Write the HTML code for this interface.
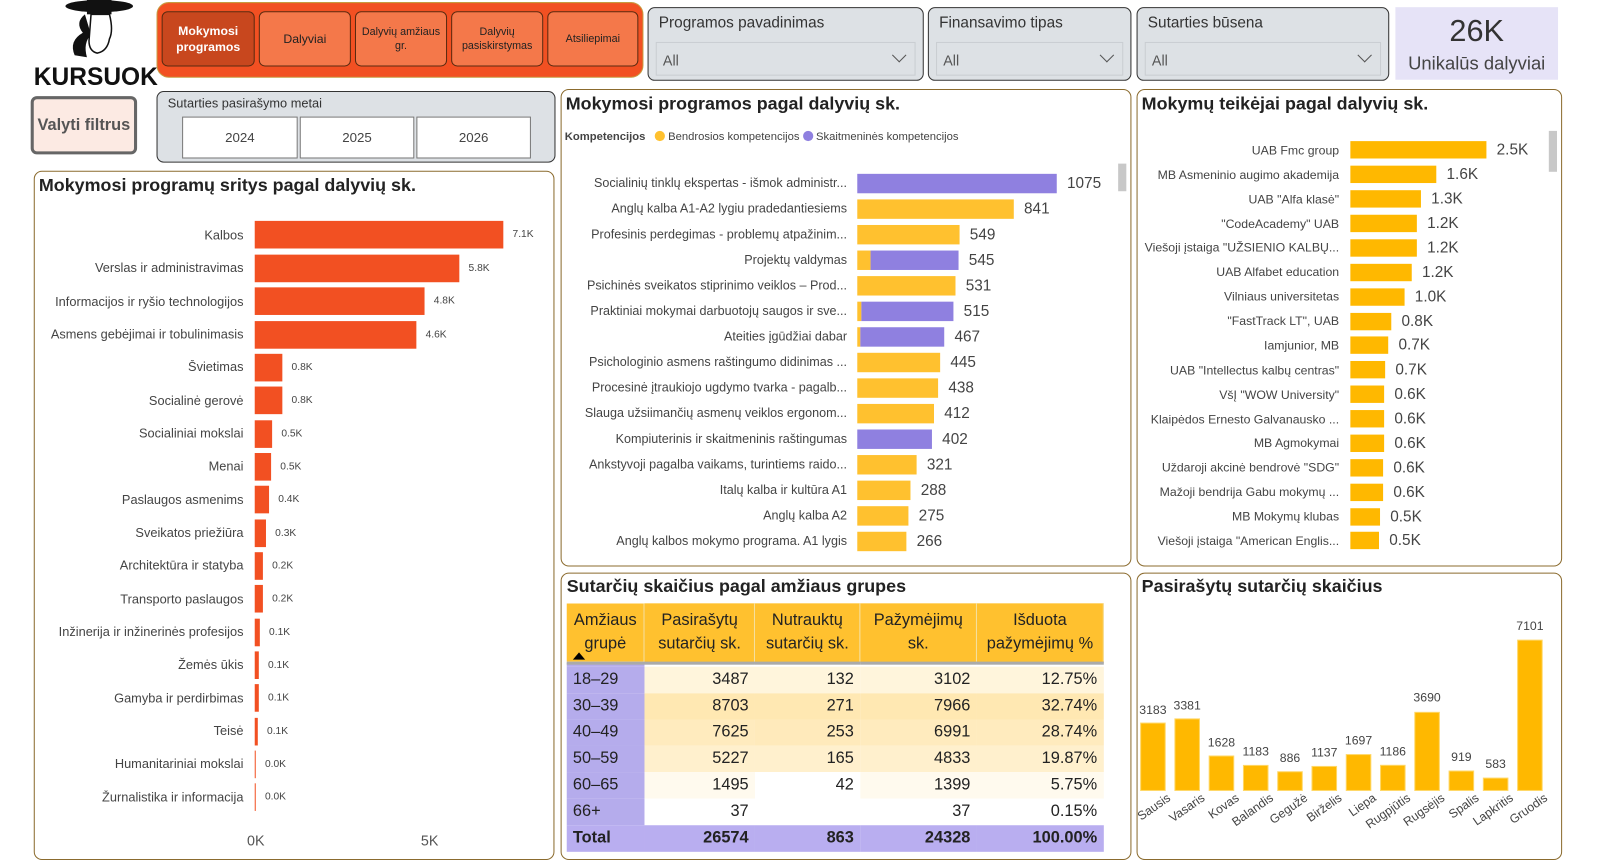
<!DOCTYPE html>
<html><head><meta charset="utf-8">
<style>
*{box-sizing:border-box;margin:0;padding:0}
html,body{width:1603px;height:860px;overflow:hidden;background:#fff;font-family:"Liberation Sans","DejaVu Sans",sans-serif;color:#333}
#w{position:absolute;left:0;top:0;width:1567px;height:841px;transform:scale(1.023,1.0226);transform-origin:0 0}
.a{position:absolute}
.panel{position:absolute;border:1.5px solid #8B6B2E;border-radius:8px;background:#fff}
.title{position:absolute;font-size:17.5px;font-weight:bold;color:#222;white-space:nowrap}
.nav{position:absolute;top:11px;height:54px;border:1px solid #5a2a10;border-radius:6px;background:#F4784A;color:#222;font-size:10.5px;text-align:center;display:flex;align-items:center;justify-content:center;line-height:14px}
.dd{position:absolute;top:7px;height:72px;background:#DDE1E5;border:1.5px solid #333;border-radius:7px}
.dd .l{position:absolute;left:10px;top:6px;font-size:15px;color:#333}
.dd .b{position:absolute;left:7px;right:7px;top:33px;height:33px;border:1px solid #c9cdd2;font-size:14px;color:#555;padding:9px 0 0 6px}
.dd .b:after{content:"";position:absolute;right:10px;top:7px;width:9px;height:9px;border-right:1.3px solid #555;border-bottom:1.3px solid #555;transform:rotate(45deg)}
.rows{position:absolute}
.row{display:flex;align-items:center}
.lab{text-align:right;white-space:nowrap;overflow:hidden;color:#444;flex:none}
.bar{flex:none}
.val{flex:none;white-space:nowrap;color:#444}
.L .row{height:32.35px}.L .lab{width:216px;padding-right:11px;font-size:12.5px}.L .bar{height:27px;background:#F25022}.L .val{margin-left:9px;font-size:10px}
.M .row{height:25px}.M .lab{width:283px;padding-right:10px;font-size:12.3px}.M .bar{height:19px;display:flex}.M .val{margin-left:10px;font-size:15px}
.y{background:#FFC12F;height:100%}.p{background:#8F80E0;height:100%}
.R .row{height:23.875px}.R .lab{width:216px;padding-right:11px;font-size:12px}.R .bar{height:17px;background:#FFB800}.R .val{margin-left:10px;font-size:15px}
table{border-collapse:collapse;font-size:16px;color:#222}
td{padding:0 6px;height:25.8px;text-align:right}
td:first-child{text-align:left;background:#B5ACEC}
th{font-weight:normal;background:#FFC12F;font-size:16px;height:58px;line-height:23px;border-right:1px solid #f5e0a0;border-bottom:3px solid #aaa}
tr.t td{background:#B9AEF0;font-weight:bold}
</style></head><body><div id="w">

<svg class="a" style="left:55px;top:0" width="80" height="58" viewBox="0 0 80 58">
<ellipse cx="42" cy="6" rx="33" ry="6" fill="#111"/>
<rect x="30" y="0" width="24" height="14" fill="#111"/>
<path d="M28 14 Q18 22 26 32 Q12 40 18 54 L30 56 Q26 42 34 34 Z" fill="#111"/>
<path d="M34 14 L52 14 Q56 30 52 38 Q50 50 40 52 Q32 50 32 40 Z" fill="#fff" stroke="#111" stroke-width="1.5"/>
</svg>
<div class="a" style="left:33px;top:62px;font-size:24px;font-weight:bold;color:#111">KURSUOK</div>

<div class="a" style="left:153px;top:2px;width:476px;height:74px;background:#F25022;border:1.5px solid #c89a40;border-radius:12px"></div>
<div class="nav" style="left:158px;width:91px;background:#C8471E;color:#fff;font-weight:bold;font-size:12px;line-height:16px">Mokymosi<br>programos</div>
<div class="nav" style="left:253px;width:90px;font-size:12px">Dalyviai</div>
<div class="nav" style="left:347px;width:90px">Dalyvių amžiaus<br>gr.</div>
<div class="nav" style="left:441px;width:90px">Dalyvių<br>pasiskirstymas</div>
<div class="nav" style="left:535px;width:89px">Atsiliepimai</div>

<div class="a" style="left:30px;top:94px;width:104px;height:57px;background:#FCEAE3;border:3px solid #666;border-radius:6px;font-size:16px;font-weight:bold;color:#555;display:flex;align-items:center;justify-content:center">Valyti filtrus</div>

<div class="a" style="left:153px;top:89px;width:390px;height:70px;background:#DDE1E5;border:1.5px solid #333;border-radius:7px">
<div class="a" style="left:10px;top:4px;font-size:12.5px;color:#333">Sutarties pasirašymo metai</div>
<div class="a" style="left:24px;top:24px;width:113px;height:41px;background:#fff;border:1px solid #777;font-size:13px;text-align:center;line-height:39px;color:#444">2024</div>
<div class="a" style="left:139px;top:24px;width:112px;height:41px;background:#fff;border:1px solid #777;font-size:13px;text-align:center;line-height:39px;color:#444">2025</div>
<div class="a" style="left:253px;top:24px;width:112px;height:41px;background:#fff;border:1px solid #777;font-size:13px;text-align:center;line-height:39px;color:#444">2026</div>
</div>

<div class="dd" style="left:633px;width:270px"><div class="l">Programos pavadinimas</div><div class="b">All</div></div>
<div class="dd" style="left:907px;width:199px"><div class="l">Finansavimo tipas</div><div class="b">All</div></div>
<div class="dd" style="left:1111px;width:247px"><div class="l">Sutarties būsena</div><div class="b">All</div></div>

<div class="a" style="left:1364px;top:7px;width:159px;height:71px;background:#E6E3F7;text-align:center">
<div style="font-size:30px;color:#333;margin-top:7px;line-height:34px">26K</div>
<div style="font-size:18px;color:#444;margin-top:4px">Unikalūs dalyviai</div>
</div>

<div class="panel" style="left:33px;top:167px;width:509px;height:674px"></div>
<div class="title" style="left:38px;top:171px">Mokymosi programų sritys pagal dalyvių sk.</div>
<div class="rows L" style="left:33px;top:213.8px">
<div class="row"><div class="lab">Kalbos</div><div class="bar" style="width:243px"></div><div class="val">7.1K</div></div>
<div class="row"><div class="lab">Verslas ir administravimas</div><div class="bar" style="width:200px"></div><div class="val">5.8K</div></div>
<div class="row"><div class="lab">Informacijos ir ryšio technologijos</div><div class="bar" style="width:166px"></div><div class="val">4.8K</div></div>
<div class="row"><div class="lab">Asmens gebėjimai ir tobulinimasis</div><div class="bar" style="width:158px"></div><div class="val">4.6K</div></div>
<div class="row"><div class="lab">Švietimas</div><div class="bar" style="width:27px"></div><div class="val">0.8K</div></div>
<div class="row"><div class="lab">Socialinė gerovė</div><div class="bar" style="width:27px"></div><div class="val">0.8K</div></div>
<div class="row"><div class="lab">Socialiniai mokslai</div><div class="bar" style="width:17px"></div><div class="val">0.5K</div></div>
<div class="row"><div class="lab">Menai</div><div class="bar" style="width:16px"></div><div class="val">0.5K</div></div>
<div class="row"><div class="lab">Paslaugos asmenims</div><div class="bar" style="width:14px"></div><div class="val">0.4K</div></div>
<div class="row"><div class="lab">Sveikatos priežiūra</div><div class="bar" style="width:11px"></div><div class="val">0.3K</div></div>
<div class="row"><div class="lab">Architektūra ir statyba</div><div class="bar" style="width:8px"></div><div class="val">0.2K</div></div>
<div class="row"><div class="lab">Transporto paslaugos</div><div class="bar" style="width:8px"></div><div class="val">0.2K</div></div>
<div class="row"><div class="lab">Inžinerija ir inžinerinės profesijos</div><div class="bar" style="width:5px"></div><div class="val">0.1K</div></div>
<div class="row"><div class="lab">Žemės ūkis</div><div class="bar" style="width:4px"></div><div class="val">0.1K</div></div>
<div class="row"><div class="lab">Gamyba ir perdirbimas</div><div class="bar" style="width:4px"></div><div class="val">0.1K</div></div>
<div class="row"><div class="lab">Teisė</div><div class="bar" style="width:3px"></div><div class="val">0.1K</div></div>
<div class="row"><div class="lab">Humanitariniai mokslai</div><div class="bar" style="width:1px"></div><div class="val">0.0K</div></div>
<div class="row"><div class="lab">Žurnalistika ir informacija</div><div class="bar" style="width:1px"></div><div class="val">0.0K</div></div>
</div>
<div class="a" style="left:238px;top:814px;width:24px;text-align:center;font-size:14px;color:#555">0K</div>
<div class="a" style="left:408px;top:814px;width:24px;text-align:center;font-size:14px;color:#555">5K</div>

<div class="panel" style="left:548px;top:87px;width:558px;height:467px"></div>
<div class="title" style="left:553px;top:91px">Mokymosi programos pagal dalyvių sk.</div>
<div class="a" style="left:552px;top:128px;font-size:11px;color:#444;white-space:nowrap"><b>Kompetencijos</b>&nbsp;&nbsp;&nbsp;<span style="display:inline-block;width:10px;height:10px;border-radius:50%;background:#FFC12F;vertical-align:-1px"></span> Bendrosios kompetencijos <span style="display:inline-block;width:10px;height:10px;border-radius:50%;background:#8F80E0;vertical-align:-1px"></span> Skaitmeninės kompetencijos</div>
<div class="a" style="left:1093px;top:160px;width:8px;height:27px;background:#c8c8c8"></div>
<div class="rows M" style="left:555px;top:166.5px">
<div class="row"><div class="lab">Socialinių tinklų ekspertas - išmok administr...</div><div class="bar" style="width:195px"><div class="p" style="width:195px"></div></div><div class="val">1075</div></div>
<div class="row"><div class="lab">Anglų kalba A1-A2 lygiu pradedantiesiems</div><div class="bar" style="width:153px"><div class="y" style="width:153px"></div></div><div class="val">841</div></div>
<div class="row"><div class="lab">Profesinis perdegimas - problemų atpažinim...</div><div class="bar" style="width:100px"><div class="y" style="width:100px"></div></div><div class="val">549</div></div>
<div class="row"><div class="lab">Projektų valdymas</div><div class="bar" style="width:99px"><div class="y" style="width:13px"></div><div class="p" style="width:86px"></div></div><div class="val">545</div></div>
<div class="row"><div class="lab">Psichinės sveikatos stiprinimo veiklos – Prod...</div><div class="bar" style="width:96px"><div class="y" style="width:96px"></div></div><div class="val">531</div></div>
<div class="row"><div class="lab">Praktiniai mokymai darbuotojų saugos ir sve...</div><div class="bar" style="width:94px"><div class="y" style="width:4px"></div><div class="p" style="width:90px"></div></div><div class="val">515</div></div>
<div class="row"><div class="lab">Ateities įgūdžiai dabar</div><div class="bar" style="width:85px"><div class="y" style="width:3px"></div><div class="p" style="width:82px"></div></div><div class="val">467</div></div>
<div class="row"><div class="lab">Psichologinio asmens raštingumo didinimas ...</div><div class="bar" style="width:81px"><div class="y" style="width:81px"></div></div><div class="val">445</div></div>
<div class="row"><div class="lab">Procesinė įtraukiojo ugdymo tvarka - pagalb...</div><div class="bar" style="width:79px"><div class="y" style="width:79px"></div></div><div class="val">438</div></div>
<div class="row"><div class="lab">Slauga užsiimančių asmenų veiklos ergonom...</div><div class="bar" style="width:75px"><div class="y" style="width:75px"></div></div><div class="val">412</div></div>
<div class="row"><div class="lab">Kompiuterinis ir skaitmeninis raštingumas</div><div class="bar" style="width:73px"><div class="p" style="width:73px"></div></div><div class="val">402</div></div>
<div class="row"><div class="lab">Ankstyvoji pagalba vaikams, turintiems raido...</div><div class="bar" style="width:58px"><div class="y" style="width:58px"></div></div><div class="val">321</div></div>
<div class="row"><div class="lab">Italų kalba ir kultūra A1</div><div class="bar" style="width:52px"><div class="y" style="width:52px"></div></div><div class="val">288</div></div>
<div class="row"><div class="lab">Anglų kalba A2</div><div class="bar" style="width:50px"><div class="y" style="width:50px"></div></div><div class="val">275</div></div>
<div class="row"><div class="lab">Anglų kalbos mokymo programa. A1 lygis</div><div class="bar" style="width:48px"><div class="y" style="width:48px"></div></div><div class="val">266</div></div>
</div>

<div class="panel" style="left:1111px;top:87px;width:416px;height:467px"></div>
<div class="title" style="left:1116px;top:91px">Mokymų teikėjai pagal dalyvių sk.</div>
<div class="a" style="left:1514px;top:128px;width:8px;height:40px;background:#c8c8c8"></div>
<div class="rows R" style="left:1104px;top:135px">
<div class="row"><div class="lab">UAB Fmc group</div><div class="bar" style="width:133px"></div><div class="val">2.5K</div></div>
<div class="row"><div class="lab">MB Asmeninio augimo akademija</div><div class="bar" style="width:84px"></div><div class="val">1.6K</div></div>
<div class="row"><div class="lab">UAB "Alfa klasė"</div><div class="bar" style="width:69px"></div><div class="val">1.3K</div></div>
<div class="row"><div class="lab">"CodeAcademy" UAB</div><div class="bar" style="width:65px"></div><div class="val">1.2K</div></div>
<div class="row"><div class="lab">Viešoji įstaiga "UŽSIENIO KALBŲ...</div><div class="bar" style="width:65px"></div><div class="val">1.2K</div></div>
<div class="row"><div class="lab">UAB Alfabet education</div><div class="bar" style="width:60px"></div><div class="val">1.2K</div></div>
<div class="row"><div class="lab">Vilniaus universitetas</div><div class="bar" style="width:53px"></div><div class="val">1.0K</div></div>
<div class="row"><div class="lab">"FastTrack LT", UAB</div><div class="bar" style="width:40px"></div><div class="val">0.8K</div></div>
<div class="row"><div class="lab">Iamjunior, MB</div><div class="bar" style="width:37px"></div><div class="val">0.7K</div></div>
<div class="row"><div class="lab">UAB "Intellectus kalbų centras"</div><div class="bar" style="width:34px"></div><div class="val">0.7K</div></div>
<div class="row"><div class="lab">VšĮ "WOW University"</div><div class="bar" style="width:33px"></div><div class="val">0.6K</div></div>
<div class="row"><div class="lab">Klaipėdos Ernesto Galvanausko ...</div><div class="bar" style="width:33px"></div><div class="val">0.6K</div></div>
<div class="row"><div class="lab">MB Agmokymai</div><div class="bar" style="width:33px"></div><div class="val">0.6K</div></div>
<div class="row"><div class="lab">Uždaroji akcinė bendrovė "SDG"</div><div class="bar" style="width:32px"></div><div class="val">0.6K</div></div>
<div class="row"><div class="lab">Mažoji bendrija Gabu mokymų ...</div><div class="bar" style="width:32px"></div><div class="val">0.6K</div></div>
<div class="row"><div class="lab">MB Mokymų klubas</div><div class="bar" style="width:29px"></div><div class="val">0.5K</div></div>
<div class="row"><div class="lab">Viešoji įstaiga "American Englis...</div><div class="bar" style="width:28px"></div><div class="val">0.5K</div></div>
</div>

<div class="panel" style="left:548px;top:560px;width:558px;height:281px"></div>
<div class="title" style="left:554px;top:563px">Sutarčių skaičius pagal amžiaus grupes</div>
<table class="a" style="left:554px;top:590px;width:525px">
<colgroup><col style="width:76px"><col style="width:108px"><col style="width:103px"><col style="width:114px"><col style="width:124px"></colgroup>
<tr><th style="position:relative">Amžiaus<br>grupė<span style="position:absolute;left:6px;bottom:2px;width:0;height:0;border-left:6px solid transparent;border-right:6px solid transparent;border-bottom:7px solid #000"></span></th><th>Pasirašytų<br>sutarčių sk.</th><th>Nutrauktų<br>sutarčių sk.</th><th>Pažymėjimų<br>sk.</th><th>Išduota<br>pažymėjimų %</th></tr>
<tr><td style="height:4px;padding:0"></td><td colspan="4" style="height:4px;padding:0;background:#fff"></td></tr>
<tr><td>18–29</td><td style="background:#FFF5DC">3487</td><td style="background:#FFF5DC">132</td><td style="background:#FFF5DC">3102</td><td style="background:#FFF5DC">12.75%</td></tr>
<tr><td>30–39</td><td style="background:#FFE8B2">8703</td><td style="background:#FFE8B2">271</td><td style="background:#FFE8B2">7966</td><td style="background:#FFE8B2">32.74%</td></tr>
<tr><td>40–49</td><td style="background:#FFEBBE">7625</td><td style="background:#FFEABB">253</td><td style="background:#FFEBBE">6991</td><td style="background:#FFEBBE">28.74%</td></tr>
<tr><td>50–59</td><td style="background:#FFF0CD">5227</td><td style="background:#FFF0CD">165</td><td style="background:#FFF0CD">4833</td><td style="background:#FFF0CD">19.87%</td></tr>
<tr><td>60–65</td><td style="background:#FFFAEE">1495</td><td style="background:#fff">42</td><td style="background:#FFFAEE">1399</td><td style="background:#FFFAEE">5.75%</td></tr>
<tr><td>66+</td><td style="background:#fff">37</td><td style="background:#fff"></td><td style="background:#fff">37</td><td style="background:#fff">0.15%</td></tr>
<tr class="t"><td>Total</td><td>26574</td><td>863</td><td>24328</td><td>100.00%</td></tr>
</table>

<div class="panel" style="left:1111px;top:560px;width:416px;height:281px"></div>
<div class="title" style="left:1116px;top:563px">Pasirašytų sutarčių skaičius</div>
<svg class="a" style="left:1105px;top:590px;overflow:visible" width="420" height="250" font-family="Liberation Sans, sans-serif">
<g fill="#FFB800" stroke="#FFD766" stroke-width="1">
<rect x="10" y="117.1" width="24" height="65.9"/>
<rect x="43.5" y="113" width="24" height="70"/>
<rect x="77" y="149.3" width="24" height="33.7"/>
<rect x="110.5" y="158.5" width="24" height="24.5"/>
<rect x="144" y="164.7" width="24" height="18.3"/>
<rect x="177.5" y="159.5" width="24" height="23.5"/>
<rect x="211" y="147.9" width="24" height="35.1"/>
<rect x="244.5" y="158.4" width="24" height="24.6"/>
<rect x="278" y="106.6" width="24" height="76.4"/>
<rect x="311.5" y="164" width="24" height="19"/>
<rect x="345" y="170.9" width="24" height="12.1"/>
<rect x="378.5" y="36" width="24" height="147"/>
</g>
<g font-size="12" fill="#444" text-anchor="middle">
<text x="22" y="108">3183</text><text x="55.5" y="104">3381</text><text x="89" y="140">1628</text><text x="122.5" y="149">1183</text><text x="156" y="155">886</text><text x="189.5" y="150">1137</text><text x="223" y="138">1697</text><text x="256.5" y="149">1186</text><text x="290" y="96">3690</text><text x="323.5" y="154">919</text><text x="357" y="161">583</text><text x="390.5" y="26">7101</text>
</g>
<g font-size="12" fill="#444" text-anchor="end">
<text transform="translate(40,192) rotate(-35)">Sausis</text>
<text transform="translate(73.5,192) rotate(-35)">Vasaris</text>
<text transform="translate(107,192) rotate(-35)">Kovas</text>
<text transform="translate(140.5,192) rotate(-35)">Balandis</text>
<text transform="translate(174,192) rotate(-35)">Gegužė</text>
<text transform="translate(207.5,192) rotate(-35)">Birželis</text>
<text transform="translate(241,192) rotate(-35)">Liepa</text>
<text transform="translate(274.5,192) rotate(-35)">Rugpjūtis</text>
<text transform="translate(308,192) rotate(-35)">Rugsėjis</text>
<text transform="translate(341.5,192) rotate(-35)">Spalis</text>
<text transform="translate(375,192) rotate(-35)">Lapkritis</text>
<text transform="translate(408.5,192) rotate(-35)">Gruodis</text>
</g>
</svg>

</div></body></html>
